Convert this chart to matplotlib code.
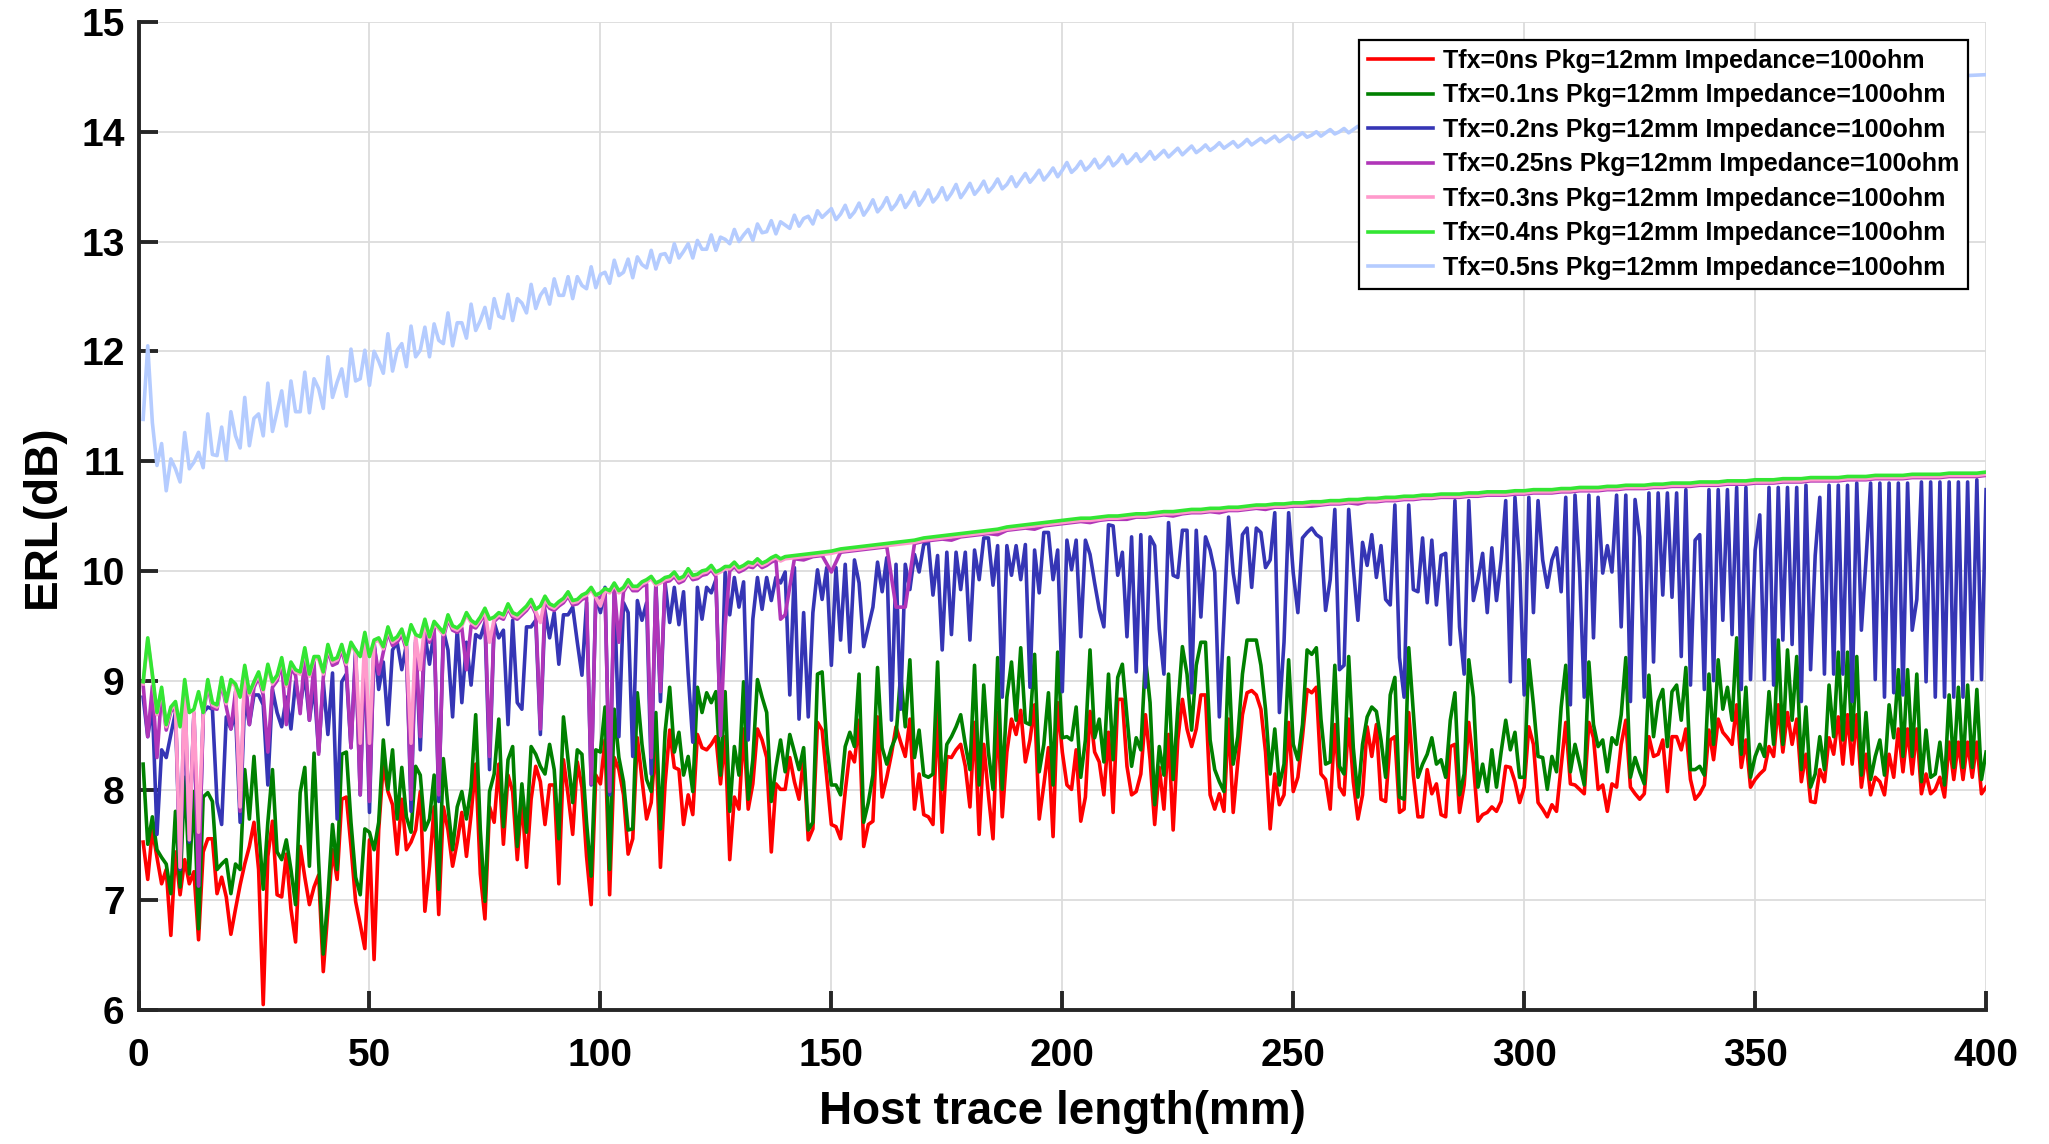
import matplotlib
matplotlib.use("Agg")
import matplotlib.pyplot as plt

# Host trace length grids (mm)
x_mm = list(range(1, 401))                                # red / green / blue traces
x_env = list(range(1, 141)) + list(range(142, 401, 2))    # 0.25 / 0.3 / 0.4 ns traces
x_05 = list(range(1, 271)) + list(range(275, 401, 5))     # 0.5 ns trace

# ERL (dB)
erl_0ns = [
    7.53, 7.19, 7.64, 7.39, 7.15, 7.28, 6.68, 7.44, 7.05, 7.37,
    7.15, 7.26, 6.64, 7.44, 7.56, 7.56, 7.06, 7.21, 7.03, 6.69,
    6.92, 7.14, 7.33, 7.49, 7.71, 7.28, 6.05, 7.40, 7.72, 7.05,
    7.03, 7.42, 6.92, 6.62, 7.49, 7.21, 6.96, 7.12, 7.23, 6.35,
    6.90, 7.46, 7.19, 7.92, 7.94, 7.49, 6.99, 6.78, 6.56, 7.55,
    6.46, 7.64, 8.24, 7.99, 7.87, 7.42, 7.92, 7.46, 7.53, 7.64,
    7.99, 6.90, 7.31, 7.85, 6.87, 7.85, 7.64, 7.31, 7.53, 7.80,
    7.40, 7.78, 8.24, 7.24, 6.83, 7.85, 7.71, 8.24, 7.51, 8.14,
    7.99, 7.37, 7.92, 7.30, 7.92, 8.22, 8.08, 7.69, 8.05, 8.05,
    7.15, 8.28, 7.96, 7.60, 8.26, 8.03, 7.40, 6.96, 8.14, 8.06,
    8.46, 7.05, 8.30, 8.19, 7.96, 7.42, 7.56, 8.48, 8.10, 7.74,
    7.89, 8.46, 7.30, 8.06, 8.55, 8.21, 8.19, 7.69, 7.96, 7.78,
    8.51, 8.39, 8.37, 8.42, 8.49, 8.06, 8.49, 7.37, 7.94, 7.83,
    8.56, 7.83, 8.06, 8.56, 8.46, 8.30, 7.44, 8.06, 8.01, 8.01,
    8.30, 8.08, 7.92, 8.30, 7.55, 7.65, 8.62, 8.55, 8.12, 7.69,
    7.67, 7.56, 7.99, 8.35, 8.26, 8.64, 7.49, 7.69, 7.72, 8.67,
    7.94, 8.12, 8.33, 8.58, 8.44, 8.31, 8.65, 7.83, 8.15, 7.78,
    7.76, 7.69, 8.73, 7.62, 8.31, 8.30, 8.37, 8.42, 8.22, 7.85,
    8.62, 7.60, 8.42, 7.96, 7.56, 8.71, 7.76, 8.35, 8.65, 8.51,
    8.73, 8.26, 8.46, 8.78, 7.74, 8.05, 8.39, 7.58, 8.80, 8.35,
    8.05, 8.01, 8.37, 7.72, 7.94, 8.72, 8.35, 8.26, 7.96, 8.53,
    7.80, 8.83, 8.83, 8.22, 7.96, 7.99, 8.15, 8.69, 8.28, 7.69,
    8.21, 7.83, 8.51, 7.64, 8.46, 8.83, 8.56, 8.40, 8.56, 8.87,
    8.87, 7.96, 7.83, 7.97, 7.81, 8.65, 7.80, 8.26, 8.69, 8.89,
    8.91, 8.87, 8.74, 8.35, 7.65, 8.15, 7.87, 7.96, 8.62, 7.99,
    8.12, 8.49, 8.92, 8.89, 8.94, 8.15, 8.10, 7.83, 8.60, 8.03,
    7.96, 8.65, 8.08, 7.74, 7.96, 8.58, 8.31, 8.60, 7.92, 7.90,
    8.46, 8.49, 7.80, 7.83, 8.71, 8.14, 7.76, 7.76, 8.19, 7.97,
    8.06, 7.78, 7.76, 8.40, 8.42, 7.80, 8.05, 8.62, 8.24, 7.72,
    7.78, 7.80, 7.85, 7.81, 7.90, 8.22, 8.21, 8.08, 7.89, 8.03,
    8.58, 8.42, 7.89, 7.83, 7.76, 7.87, 7.81, 8.22, 8.62, 8.06,
    8.05, 8.01, 7.97, 8.62, 8.48, 8.01, 8.05, 7.81, 8.06, 8.03,
    8.42, 8.64, 8.03, 7.97, 7.92, 7.97, 8.49, 8.31, 8.33, 8.46,
    7.99, 8.49, 8.49, 8.37, 8.56, 8.10, 7.92, 7.97, 8.05, 8.55,
    8.28, 8.65, 8.53, 8.48, 8.42, 8.78, 8.21, 8.46, 8.03, 8.10,
    8.15, 8.19, 8.40, 8.31, 8.78, 8.35, 8.71, 8.42, 8.65, 8.08,
    8.33, 7.90, 7.89, 8.19, 8.08, 8.48, 8.33, 8.67, 8.24, 8.69,
    8.24, 8.69, 8.03, 8.33, 7.96, 8.12, 8.08, 7.96, 8.33, 8.12,
    8.56, 8.17, 8.56, 8.15, 8.56, 7.97, 8.15, 7.97, 8.01, 8.12,
    7.94, 8.44, 8.10, 8.44, 8.10, 8.44, 8.12, 8.44, 7.97, 8.03,
]

erl_01ns = [
    8.24, 7.51, 7.76, 7.46, 7.39, 7.33, 7.06, 7.81, 7.12, 8.12,
    7.24, 7.99, 6.74, 7.94, 7.98, 7.90, 7.28, 7.33, 7.37, 7.06,
    7.33, 7.28, 8.19, 7.74, 8.31, 7.67, 7.10, 7.71, 8.19, 7.44,
    7.37, 7.55, 7.28, 6.96, 7.98, 8.21, 7.31, 8.34, 7.35, 6.51,
    7.03, 7.69, 7.28, 8.33, 8.35, 7.71, 7.21, 7.05, 7.65, 7.62,
    7.46, 7.71, 8.46, 8.01, 8.37, 7.74, 8.21, 7.76, 7.62, 8.22,
    8.14, 7.64, 7.74, 8.14, 7.10, 8.29, 7.85, 7.46, 7.85, 7.99,
    7.74, 8.03, 8.69, 7.64, 6.99, 7.99, 8.15, 8.65, 7.67, 8.28,
    8.40, 7.49, 8.06, 7.62, 8.40, 8.33, 8.22, 8.15, 8.42, 8.19,
    7.56, 8.67, 8.28, 7.89, 8.37, 8.33, 7.71, 7.22, 8.37, 8.35,
    8.76, 7.28, 8.74, 8.30, 8.08, 7.64, 7.65, 8.89, 8.42, 8.10,
    7.99, 8.71, 7.65, 8.53, 8.94, 8.35, 8.53, 8.14, 8.31, 7.99,
    8.94, 8.71, 8.89, 8.80, 8.90, 8.14, 8.90, 7.81, 8.40, 8.14,
    8.99, 7.92, 8.28, 9.01, 8.85, 8.71, 7.90, 8.21, 8.46, 8.17,
    8.51, 8.35, 8.19, 8.39, 7.64, 7.71, 9.06, 9.08, 8.42, 8.05,
    8.05, 7.96, 8.40, 8.53, 8.40, 9.06, 7.71, 7.89, 8.14, 9.12,
    8.39, 8.24, 8.39, 8.49, 9.06, 8.58, 9.19, 8.30, 8.55, 8.14,
    8.12, 8.15, 9.17, 8.01, 8.42, 8.49, 8.58, 8.69, 8.42, 8.19,
    9.14, 8.05, 8.96, 8.35, 8.01, 9.21, 8.01, 8.85, 9.17, 8.64,
    9.30, 8.62, 8.60, 9.24, 8.17, 8.42, 8.89, 8.05, 9.26, 8.48,
    8.49, 8.46, 8.76, 8.12, 8.46, 9.28, 8.48, 8.65, 8.26, 9.06,
    8.28, 9.03, 9.15, 8.67, 8.22, 8.48, 8.37, 9.21, 8.80, 7.87,
    8.40, 8.14, 9.06, 8.10, 8.74, 9.31, 9.06, 8.55, 9.14, 9.35,
    9.35, 8.46, 8.19, 8.08, 7.99, 9.21, 8.24, 8.49, 9.06, 9.37,
    9.37, 9.37, 9.14, 8.74, 8.15, 8.56, 8.05, 8.24, 9.19, 8.42,
    8.28, 8.60, 9.28, 9.24, 9.30, 8.65, 8.24, 8.26, 9.14, 8.22,
    8.15, 9.22, 8.39, 7.94, 8.42, 8.67, 8.76, 8.72, 8.46, 8.12,
    8.87, 9.03, 7.94, 7.92, 9.30, 8.71, 8.12, 8.24, 8.33, 8.48,
    8.24, 8.28, 8.12, 8.64, 8.89, 7.96, 8.15, 9.19, 8.85, 8.03,
    8.24, 7.99, 8.37, 8.03, 8.35, 8.64, 8.37, 8.53, 8.12, 8.12,
    9.19, 8.78, 8.31, 8.30, 8.01, 8.31, 8.17, 8.76, 9.14, 8.17,
    8.42, 8.24, 8.05, 9.17, 8.60, 8.40, 8.46, 8.17, 8.48, 8.42,
    8.69, 9.21, 8.12, 8.30, 8.17, 8.06, 9.05, 8.49, 8.81, 8.92,
    8.40, 8.90, 8.96, 8.64, 9.12, 8.19, 8.19, 8.22, 8.14, 9.06,
    8.42, 9.19, 8.74, 8.94, 8.64, 9.39, 8.33, 8.94, 8.12, 8.31,
    8.42, 8.31, 8.90, 8.42, 9.37, 8.42, 9.28, 8.64, 9.22, 8.19,
    8.76, 8.03, 8.15, 8.49, 8.19, 8.96, 8.49, 9.26, 8.46, 9.26,
    8.46, 9.22, 8.14, 8.71, 8.10, 8.31, 8.46, 8.14, 8.78, 8.48,
    9.10, 8.31, 9.10, 8.31, 9.06, 8.08, 8.55, 8.12, 8.15, 8.44,
    8.05, 8.87, 8.21, 8.94, 8.21, 8.96, 8.21, 8.92, 8.10, 8.35,
]

erl_02ns = [
    8.85, 8.49, 8.78, 7.60, 8.37, 8.30, 8.51, 8.71, 7.28, 8.70,
    7.53, 8.70, 7.13, 8.71, 8.76, 8.74, 7.89, 7.69, 8.67, 8.56,
    8.71, 7.71, 8.85, 8.60, 8.87, 8.87, 8.78, 8.05, 8.92, 8.71,
    8.58, 8.85, 8.56, 8.99, 8.76, 9.06, 8.64, 8.96, 8.35, 8.99,
    8.51, 9.07, 7.74, 8.99, 9.06, 8.39, 9.28, 7.96, 9.28, 7.80,
    9.35, 8.92, 9.17, 8.60, 9.28, 9.35, 9.10, 9.33, 7.81, 9.35,
    8.37, 9.42, 9.15, 9.46, 7.90, 9.46, 9.28, 8.67, 9.47, 8.80,
    9.35, 8.96, 9.42, 9.39, 9.53, 8.19, 9.53, 9.39, 9.46, 8.60,
    9.55, 8.80, 8.74, 9.49, 9.49, 9.55, 8.51, 9.64, 9.39, 9.62,
    9.15, 9.60, 9.60, 9.67, 9.35, 9.05, 9.71, 8.05, 9.78, 9.62,
    9.85, 7.96, 9.81, 8.49, 9.71, 9.62, 8.31, 9.73, 9.55, 9.71,
    8.15, 9.89, 8.81, 9.89, 9.53, 9.85, 9.51, 9.81, 9.06, 8.44,
    9.85, 9.56, 9.85, 9.80, 9.92, 8.56, 9.99, 9.60, 9.94, 9.67,
    9.90, 8.46, 9.56, 9.94, 9.65, 9.94, 9.73, 9.94, 9.89, 9.99,
    8.87, 10.03, 8.65, 9.62, 8.67, 9.62, 10.01, 9.74, 10.03, 9.14,
    10.03, 9.37, 10.06, 9.26, 10.10, 9.89, 9.31, 9.49, 9.67, 10.08,
    9.81, 10.12, 8.64, 10.06, 8.74, 10.06, 9.83, 10.15, 9.99, 10.24,
    10.26, 9.78, 10.14, 9.28, 10.17, 9.42, 10.17, 9.83, 10.17, 9.37,
    10.19, 9.92, 10.30, 10.30, 9.87, 10.23, 8.85, 10.23, 9.96, 10.23,
    9.92, 10.24, 8.94, 10.19, 9.80, 10.35, 10.35, 9.92, 10.19, 8.90,
    10.28, 10.01, 10.28, 9.40, 10.28, 10.15, 9.89, 9.65, 9.49, 10.42,
    10.41, 9.96, 10.17, 9.40, 10.31, 9.08, 10.33, 8.94, 10.31, 10.23,
    9.47, 9.06, 10.44, 9.96, 9.94, 10.37, 10.37, 8.89, 10.37, 9.58,
    10.31, 10.19, 9.99, 8.67, 9.56, 10.49, 9.98, 9.71, 10.33, 10.39,
    9.85, 10.39, 10.35, 10.03, 10.10, 10.53, 8.71, 9.35, 10.53, 9.98,
    9.62, 10.30, 10.35, 10.39, 10.33, 10.30, 9.64, 9.92, 10.56, 9.10,
    9.14, 10.56, 10.03, 9.55, 10.26, 10.05, 10.33, 9.94, 10.23, 9.74,
    9.69, 10.60, 9.21, 8.85, 10.60, 9.83, 9.81, 10.30, 9.71, 10.28,
    9.69, 10.14, 10.16, 9.33, 10.64, 9.49, 9.06, 10.64, 9.73, 9.92,
    10.16, 9.62, 10.21, 9.73, 10.10, 10.64, 8.99, 10.67, 10.06, 8.87,
    10.67, 9.62, 10.64, 10.10, 9.85, 10.10, 10.21, 9.81, 10.67, 8.78,
    10.69, 9.99, 8.85, 10.69, 9.39, 10.67, 9.98, 10.23, 9.99, 10.69,
    9.49, 10.69, 8.81, 10.65, 10.31, 8.85, 10.71, 9.17, 10.71, 9.78,
    10.71, 9.76, 10.71, 9.22, 10.74, 8.96, 10.28, 10.33, 8.92, 10.74,
    9.00, 10.74, 9.55, 10.74, 9.42, 10.76, 8.92, 10.76, 9.01, 10.19,
    10.51, 9.01, 10.76, 8.96, 10.76, 9.37, 10.76, 9.33, 10.76, 8.81,
    10.78, 9.10, 10.14, 10.67, 9.06, 10.78, 9.06, 10.78, 9.06, 10.78,
    8.81, 10.80, 9.46, 10.10, 10.80, 9.01, 10.80, 8.85, 10.80, 8.89,
    10.80, 8.87, 10.80, 9.46, 9.74, 10.81, 8.99, 10.81, 8.85, 10.81,
    8.85, 10.81, 8.85, 10.81, 8.85, 10.81, 9.01, 10.83, 9.01, 10.74,
]

erl_025ns = [
    8.96, 8.49, 8.95, 8.30, 8.90, 8.55, 8.72, 8.75, 7.35, 8.95,
    7.60, 8.70, 7.13, 8.68, 8.96, 8.75, 8.74, 8.98, 8.76, 8.56,
    8.90, 7.81, 9.08, 8.60, 8.94, 9.03, 8.87, 8.35, 8.94, 9.00,
    9.16, 8.60, 9.12, 9.05, 8.70, 9.25, 8.64, 9.17, 8.33, 9.03,
    9.28, 9.14, 9.16, 9.28, 9.12, 8.39, 9.23, 7.96, 9.39, 7.90,
    9.32, 9.06, 9.26, 9.44, 9.32, 9.35, 9.42, 9.28, 7.92, 9.37,
    8.49, 9.51, 9.35, 9.49, 7.96, 9.39, 9.56, 9.46, 9.44, 9.48,
    9.10, 9.50, 9.48, 9.54, 9.62, 8.31, 9.54, 9.58, 9.56, 9.66,
    9.58, 9.56, 9.60, 9.64, 9.70, 9.61, 8.56, 9.73, 9.66, 9.64,
    9.68, 9.71, 9.77, 9.69, 9.70, 9.74, 9.76, 8.06, 9.74, 9.76,
    9.80, 7.99, 9.85, 9.35, 9.81, 9.88, 9.82, 9.82, 9.86, 9.88,
    8.30, 9.85, 8.90, 9.90, 9.91, 9.95, 9.89, 9.91, 9.98, 9.92,
    9.93, 9.96, 9.97, 10.01, 9.95, 8.50, 9.50, 10.00, 10.04, 9.99,
    10.01, 10.04, 10.03, 10.07, 10.03, 10.05, 10.08, 10.10, 9.56, 9.60,
    10.11, 10.10, 10.13, 10.14, 9.99, 10.17, 10.18, 10.19, 10.20, 10.21,
    10.22, 9.67, 9.67, 10.25, 10.27, 10.28, 10.29, 10.28, 10.31, 10.32,
    10.33, 10.34, 10.33, 10.37, 10.38, 10.39, 10.38, 10.41, 10.42, 10.43,
    10.44, 10.45, 10.44, 10.46, 10.47, 10.47, 10.47, 10.49, 10.49, 10.50,
    10.51, 10.50, 10.52, 10.53, 10.53, 10.54, 10.53, 10.55, 10.55, 10.56,
    10.57, 10.56, 10.58, 10.58, 10.59, 10.59, 10.59, 10.60, 10.61, 10.61,
    10.62, 10.61, 10.63, 10.63, 10.64, 10.64, 10.65, 10.65, 10.66, 10.66,
    10.67, 10.67, 10.67, 10.68, 10.68, 10.69, 10.69, 10.69, 10.70, 10.70,
    10.71, 10.71, 10.71, 10.72, 10.72, 10.73, 10.73, 10.73, 10.74, 10.74,
    10.75, 10.75, 10.75, 10.76, 10.76, 10.77, 10.77, 10.77, 10.78, 10.78,
    10.78, 10.79, 10.79, 10.79, 10.80, 10.80, 10.80, 10.81, 10.81, 10.81,
    10.82, 10.82, 10.82, 10.82, 10.83, 10.83, 10.83, 10.84, 10.84, 10.84,
    10.84, 10.85, 10.85, 10.85, 10.85, 10.86, 10.86, 10.86, 10.86, 10.87,
]

erl_03ns = [
    8.97, 9.37, 9.04, 8.69, 8.92, 8.58, 8.74, 8.79, 7.30, 8.99,
    7.55, 8.72, 7.62, 8.69, 8.99, 8.78, 8.76, 9.01, 8.79, 8.99,
    8.95, 7.85, 9.12, 8.87, 8.97, 9.06, 8.90, 9.13, 8.97, 9.03,
    9.19, 8.95, 9.15, 9.08, 9.06, 9.28, 9.04, 9.20, 9.20, 9.06,
    9.31, 9.17, 9.19, 9.31, 9.15, 9.33, 9.26, 8.43, 9.42, 8.43,
    9.35, 9.37, 9.29, 9.47, 9.35, 9.38, 9.45, 9.31, 8.43, 9.40,
    9.10, 9.54, 9.38, 9.52, 9.47, 9.42, 9.58, 9.48, 9.46, 9.50,
    9.60, 9.53, 9.50, 9.56, 9.64, 9.35, 9.56, 9.60, 9.58, 9.68,
    9.60, 9.58, 9.62, 9.66, 9.72, 9.63, 9.53, 9.75, 9.68, 9.66,
    9.70, 9.73, 9.79, 9.71, 9.72, 9.76, 9.78, 9.83, 9.76, 9.68,
    9.82, 9.80, 9.87, 9.80, 9.83, 9.90, 9.84, 9.84, 9.88, 9.90,
    9.93, 9.87, 9.89, 9.92, 9.93, 9.97, 9.91, 9.93, 10.00, 9.94,
    9.95, 9.98, 9.99, 10.03, 9.97, 9.99, 10.02, 10.02, 10.06, 10.01,
    10.03, 10.06, 10.05, 10.09, 10.05, 10.07, 10.10, 10.12, 10.09, 10.11,
    10.12, 10.13, 10.14, 10.15, 10.16, 10.18, 10.19, 10.20, 10.21, 10.22,
    10.23, 10.24, 10.25, 10.26, 10.28, 10.29, 10.30, 10.31, 10.32, 10.33,
    10.34, 10.35, 10.36, 10.38, 10.39, 10.40, 10.41, 10.42, 10.43, 10.44,
    10.45, 10.46, 10.46, 10.47, 10.48, 10.48, 10.49, 10.50, 10.50, 10.51,
    10.52, 10.52, 10.53, 10.54, 10.54, 10.55, 10.55, 10.56, 10.56, 10.57,
    10.58, 10.58, 10.59, 10.59, 10.60, 10.60, 10.61, 10.61, 10.62, 10.62,
    10.63, 10.63, 10.64, 10.64, 10.65, 10.65, 10.66, 10.66, 10.67, 10.67,
    10.68, 10.68, 10.68, 10.69, 10.69, 10.70, 10.70, 10.70, 10.71, 10.71,
    10.72, 10.72, 10.72, 10.73, 10.73, 10.74, 10.74, 10.74, 10.75, 10.75,
    10.76, 10.76, 10.76, 10.77, 10.77, 10.78, 10.78, 10.78, 10.79, 10.79,
    10.79, 10.80, 10.80, 10.80, 10.81, 10.81, 10.81, 10.82, 10.82, 10.82,
    10.83, 10.83, 10.83, 10.83, 10.84, 10.84, 10.84, 10.85, 10.85, 10.85,
    10.85, 10.86, 10.86, 10.86, 10.86, 10.87, 10.87, 10.87, 10.87, 10.88,
]

erl_04ns = [
    8.99, 9.39, 9.06, 8.71, 8.94, 8.60, 8.76, 8.81, 8.58, 9.01,
    8.71, 8.74, 8.90, 8.71, 9.01, 8.80, 8.78, 9.03, 8.81, 9.01,
    8.97, 8.85, 9.14, 8.89, 8.99, 9.08, 8.92, 9.15, 8.99, 9.05,
    9.21, 8.97, 9.17, 9.10, 9.08, 9.30, 9.06, 9.22, 9.22, 9.08,
    9.33, 9.19, 9.21, 9.33, 9.17, 9.35, 9.28, 9.22, 9.44, 9.22,
    9.37, 9.39, 9.31, 9.49, 9.37, 9.40, 9.47, 9.33, 9.51, 9.42,
    9.40, 9.56, 9.40, 9.54, 9.49, 9.44, 9.60, 9.50, 9.48, 9.52,
    9.62, 9.55, 9.52, 9.58, 9.66, 9.56, 9.58, 9.62, 9.60, 9.70,
    9.62, 9.60, 9.64, 9.68, 9.74, 9.65, 9.68, 9.77, 9.70, 9.68,
    9.72, 9.75, 9.81, 9.73, 9.74, 9.78, 9.80, 9.85, 9.78, 9.80,
    9.84, 9.82, 9.89, 9.82, 9.85, 9.92, 9.86, 9.86, 9.90, 9.92,
    9.95, 9.89, 9.91, 9.94, 9.95, 9.99, 9.93, 9.95, 10.02, 9.96,
    9.97, 10.00, 10.01, 10.05, 9.99, 10.01, 10.04, 10.04, 10.08, 10.03,
    10.05, 10.08, 10.07, 10.11, 10.07, 10.09, 10.12, 10.14, 10.11, 10.13,
    10.14, 10.15, 10.16, 10.17, 10.18, 10.20, 10.21, 10.22, 10.23, 10.24,
    10.25, 10.26, 10.27, 10.28, 10.30, 10.31, 10.32, 10.33, 10.34, 10.35,
    10.36, 10.37, 10.38, 10.40, 10.41, 10.42, 10.43, 10.44, 10.45, 10.46,
    10.47, 10.48, 10.48, 10.49, 10.50, 10.50, 10.51, 10.52, 10.52, 10.53,
    10.54, 10.54, 10.55, 10.56, 10.56, 10.57, 10.57, 10.58, 10.58, 10.59,
    10.60, 10.60, 10.61, 10.61, 10.62, 10.62, 10.63, 10.63, 10.64, 10.64,
    10.65, 10.65, 10.66, 10.66, 10.67, 10.67, 10.68, 10.68, 10.69, 10.69,
    10.70, 10.70, 10.70, 10.71, 10.71, 10.72, 10.72, 10.72, 10.73, 10.73,
    10.74, 10.74, 10.74, 10.75, 10.75, 10.76, 10.76, 10.76, 10.77, 10.77,
    10.78, 10.78, 10.78, 10.79, 10.79, 10.80, 10.80, 10.80, 10.81, 10.81,
    10.81, 10.82, 10.82, 10.82, 10.83, 10.83, 10.83, 10.84, 10.84, 10.84,
    10.85, 10.85, 10.85, 10.85, 10.86, 10.86, 10.86, 10.87, 10.87, 10.87,
    10.87, 10.88, 10.88, 10.88, 10.88, 10.89, 10.89, 10.89, 10.89, 10.90,
]

erl_05ns = [
    11.38, 12.05, 11.35, 10.96, 11.16, 10.73, 11.02, 10.93, 10.81, 11.26,
    10.93, 10.99, 11.08, 10.94, 11.43, 11.06, 11.05, 11.31, 11.01, 11.45,
    11.23, 11.12, 11.58, 11.14, 11.39, 11.43, 11.23, 11.71, 11.27, 11.45,
    11.64, 11.32, 11.73, 11.45, 11.45, 11.81, 11.44, 11.75, 11.66, 11.48,
    11.95, 11.58, 11.72, 11.84, 11.59, 12.02, 11.73, 11.75, 12.01, 11.69,
    12.00, 11.91, 11.80, 12.16, 11.82, 12.01, 12.07, 11.86, 12.23, 11.95,
    12.01, 12.22, 11.95, 12.25, 12.10, 12.07, 12.35, 12.05, 12.26, 12.26,
    12.12, 12.43, 12.19, 12.28, 12.40, 12.21, 12.48, 12.32, 12.30, 12.52,
    12.28, 12.48, 12.44, 12.35, 12.61, 12.39, 12.51, 12.57, 12.43, 12.66,
    12.51, 12.51, 12.68, 12.48, 12.68, 12.60, 12.57, 12.77, 12.58, 12.70,
    12.72, 12.62, 12.83, 12.69, 12.72, 12.84, 12.67, 12.86, 12.79, 12.76,
    12.92, 12.75, 12.88, 12.89, 12.81, 12.98, 12.85, 12.91, 12.98, 12.85,
    13.01, 12.93, 12.93, 13.06, 12.92, 13.04, 13.02, 12.98, 13.11, 13.00,
    13.06, 13.11, 13.01, 13.16, 13.08, 13.09, 13.19, 13.07, 13.18, 13.15,
    13.12, 13.24, 13.14, 13.21, 13.23, 13.16, 13.28, 13.22, 13.26, 13.30,
    13.20, 13.25, 13.33, 13.22, 13.27, 13.35, 13.24, 13.30, 13.38, 13.27,
    13.32, 13.40, 13.29, 13.34, 13.42, 13.31, 13.37, 13.45, 13.33, 13.39,
    13.47, 13.36, 13.41, 13.49, 13.38, 13.44, 13.52, 13.40, 13.46, 13.53,
    13.43, 13.48, 13.55, 13.45, 13.50, 13.57, 13.48, 13.52, 13.59, 13.50,
    13.56, 13.62, 13.54, 13.59, 13.65, 13.56, 13.61, 13.67, 13.59, 13.65,
    13.72, 13.63, 13.67, 13.73, 13.65, 13.69, 13.75, 13.67, 13.71, 13.77,
    13.69, 13.73, 13.79, 13.71, 13.75, 13.80, 13.73, 13.77, 13.82, 13.75,
    13.79, 13.83, 13.77, 13.81, 13.85, 13.79, 13.83, 13.87, 13.81, 13.84,
    13.88, 13.83, 13.86, 13.90, 13.85, 13.88, 13.91, 13.86, 13.89, 13.93,
    13.88, 13.91, 13.94, 13.90, 13.93, 13.96, 13.91, 13.94, 13.97, 13.93,
    13.96, 13.99, 13.95, 13.97, 14.00, 13.96, 13.99, 14.02, 13.98, 14.00,
    14.03, 13.99, 14.02, 14.05, 14.01, 14.03, 14.06, 14.03, 14.05, 14.08,
    14.10, 14.12, 14.14, 14.17, 14.19, 14.21, 14.23, 14.25, 14.27, 14.29,
    14.31, 14.33, 14.35, 14.37, 14.39, 14.40, 14.42, 14.43, 14.45, 14.46,
    14.47, 14.48, 14.49, 14.50, 14.51, 14.52,
]

labels = [
    "Tfx=0ns Pkg=12mm Impedance=100ohm",
    "Tfx=0.1ns Pkg=12mm Impedance=100ohm",
    "Tfx=0.2ns Pkg=12mm Impedance=100ohm",
    "Tfx=0.25ns Pkg=12mm Impedance=100ohm",
    "Tfx=0.3ns Pkg=12mm Impedance=100ohm",
    "Tfx=0.4ns Pkg=12mm Impedance=100ohm",
    "Tfx=0.5ns Pkg=12mm Impedance=100ohm",
]
colors = ["#FF0000", "#008000", "#3535B5", "#B035B8", "#FF9ACC", "#33E633", "#B5CCFF"]
xs = [x_mm, x_mm, x_mm, x_env, x_env, x_env, x_05]
ys = [erl_0ns, erl_01ns, erl_02ns, erl_025ns, erl_03ns, erl_04ns, erl_05ns]

plt.rcParams['font.family'] = ['Liberation Sans', 'DejaVu Sans']
plt.rcParams['font.weight'] = 'bold'

fig = plt.figure(figsize=(20.49, 11.44), dpi=100)
ax = fig.add_axes([0.0676, 0.1171, 0.9017, 0.8637])

for x, y, c, lab in zip(xs, ys, colors, labels):
    ax.plot(x, y, color=c, lw=2.6, label=lab)

ax.set_xlim(0, 400)
ax.set_ylim(6, 15)
ax.set_xticks(range(0, 401, 50))
ax.set_yticks(range(6, 16))
ax.grid(True, color='#dcdcdc', lw=1.3)
ax.set_axisbelow(True)

for side in ['top', 'right']:
    ax.spines[side].set_visible(False)
for side in ['left', 'bottom']:
    ax.spines[side].set_linewidth(2.8)
    ax.spines[side].set_color('#262626')

ax.tick_params(direction='in', length=14, width=2.8, color='#262626', labelsize=28)
ax.tick_params(axis='x', pad=20)
ax.tick_params(axis='y', pad=10)
ax.set_xlabel("Host trace length(mm)", fontsize=33, fontweight='bold', labelpad=12)
ax.set_ylabel("ERL(dB)", fontsize=33, fontweight='bold', labelpad=12)

leg = ax.legend(loc='upper right', prop={'weight': 'bold', 'size': 18},
                frameon=True, fancybox=False, edgecolor='black',
                handlelength=2.6, handletextpad=0.4, borderpad=0.35,
                borderaxespad=0.73, labelspacing=0.42, framealpha=1.0)
leg.get_frame().set_linewidth(1.6)

fig.savefig("out.png", dpi=100)
